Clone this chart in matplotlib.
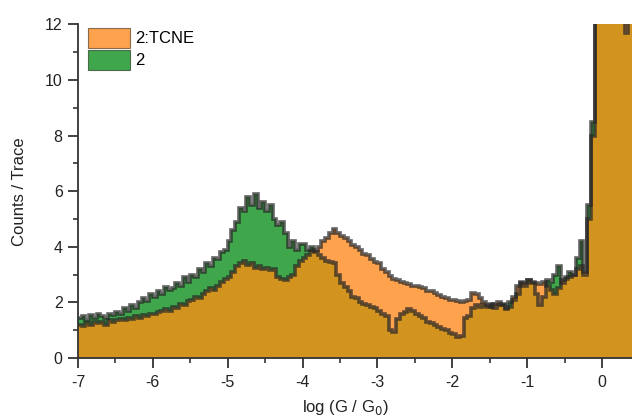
import numpy as np
import matplotlib
matplotlib.use("Agg")
import matplotlib.pyplot as plt
from matplotlib.patches import Patch

plt.rcParams['font.family'] = ['Liberation Sans', 'DejaVu Sans']
plt.rcParams['axes.unicode_minus'] = False

# histogram bin edges (log G/G0), width 0.05
bin_edges = np.round(np.arange(-7.0, 0.4001, 0.05), 2)

# series "2" (green)
counts_2 = [
    1.45, 1.5, 1.35, 1.55, 1.45, 1.6, 1.5, 1.45, 1.6, 1.55,
    1.65, 1.6, 1.8, 1.7, 1.9, 1.8, 2.0, 2.15, 2.05, 2.3,
    2.2, 2.4, 2.3, 2.55, 2.45, 2.5, 2.7, 2.6, 2.9, 2.75,
    3.0, 2.9, 3.2, 3.1, 3.4, 3.3, 3.6, 3.55, 3.8, 3.9,
    4.2, 4.6, 4.9, 5.4, 5.3, 5.8, 5.5, 5.9, 5.4, 5.6,
    5.3, 5.5, 5.0, 4.8, 4.9, 4.5, 4.0, 4.2, 3.9, 4.1,
    4.1, 3.9, 4.0, 3.8, 3.7, 3.6, 3.5, 3.45, 3.4, 3.0,
    2.7, 2.55, 2.4, 2.2, 2.15, 2.0, 1.95, 1.9, 1.85, 1.8,
    1.7, 1.6, 1.5, 1.0, 0.95, 1.4, 1.6, 1.65, 1.75, 1.7,
    1.6, 1.5, 1.45, 1.3, 1.25, 1.2, 1.1, 1.05, 1.0, 0.9,
    0.85, 0.75, 0.8, 1.45, 1.5, 1.8, 1.9, 1.85, 1.9, 1.85,
    1.95, 1.8, 1.9, 1.95, 1.75, 2.0, 2.1, 2.3, 2.7, 2.6,
    2.8, 2.7, 2.3, 1.9, 2.2, 2.8, 2.75, 3.0, 3.3, 2.7,
    2.9, 3.1, 3.0, 3.6, 4.2, 3.0, 5.5, 8.5, 12.5, 16.0,
    18.0, 20.0, 22.0, 20.0, 18.0, 15.0, 11.7, 13.0,
]

# series "2:TCNE" (orange)
counts_tcne = [
    1.2, 1.15, 1.25, 1.2, 1.3, 1.25, 1.3, 1.2, 1.35, 1.3,
    1.35, 1.4, 1.35, 1.45, 1.4, 1.5, 1.45, 1.55, 1.5, 1.6,
    1.6, 1.65, 1.7, 1.75, 1.7, 1.85, 1.8, 1.95, 1.9, 2.05,
    2.1, 2.2, 2.15, 2.3, 2.4, 2.5, 2.45, 2.6, 2.75, 2.85,
    2.9, 3.1, 3.3, 3.4, 3.5, 3.35, 3.4, 3.25, 3.3, 3.2,
    3.25, 3.15, 3.2, 2.9, 2.85, 2.8, 2.9, 3.0, 3.3, 3.5,
    3.6, 3.7, 3.85, 3.9, 4.0, 4.2, 4.3, 4.5, 4.65, 4.5,
    4.4, 4.3, 4.2, 4.05, 4.0, 3.9, 3.75, 3.7, 3.55, 3.45,
    3.4, 3.2, 3.1, 2.95, 2.85, 2.8, 2.75, 2.7, 2.65, 2.6,
    2.6, 2.55, 2.5, 2.4, 2.4, 2.35, 2.25, 2.2, 2.15, 2.1,
    2.1, 2.05, 2.0, 2.05, 2.1, 2.35, 2.3, 2.15, 2.0, 1.9,
    1.85, 1.95, 2.0, 1.9, 1.8, 1.85, 2.2, 2.6, 2.75, 2.7,
    2.8, 2.75, 2.7, 2.65, 2.75, 2.6, 2.45, 2.3, 2.5, 2.8,
    2.85, 2.9, 3.0, 3.2, 3.3, 3.1, 5.0, 8.0, 12.5, 16.0,
    19.0, 21.0, 23.0, 21.0, 19.0, 16.0, 14.0, 12.5,
]

labels = ["2:TCNE", "2"]
c_orange = "#FFA24E"
c_green = "#40A64B"
c_overlap = "#D3931F"

c2 = np.array(counts_2)
ct = np.array(counts_tcne)

fig = plt.figure(figsize=(6.32, 4.19), dpi=100)
ax = fig.add_axes([0.1234, 0.1456, 0.8766, 0.7962])

ax.stairs(ct, bin_edges, fill=True, color=c_orange, lw=0)
ax.stairs(c2, bin_edges, fill=True, color=c_green, lw=0)
ax.stairs(np.minimum(ct, c2), bin_edges, fill=True, color=c_overlap, lw=0)
ax.stairs(c2, bin_edges, fill=False, color="#262626", lw=2.6, alpha=0.72, baseline=None)
ax.stairs(ct, bin_edges, fill=False, color="#262626", lw=2.6, alpha=0.72, baseline=None)

ax.set_xlim(-7, 0.4)
ax.set_ylim(0, 12)
ax.set_xticks([-7, -6, -5, -4, -3, -2, -1, 0])
ax.set_xticks(np.arange(-6.5, 0.4, 1.0), minor=True)
ax.set_yticks([0, 2, 4, 6, 8, 10, 12])
ax.set_yticks([1, 3, 5, 7, 9, 11], minor=True)

for s in ["top", "right"]:
    ax.spines[s].set_visible(False)
for s in ["left", "bottom"]:
    ax.spines[s].set_linewidth(1.3)
    ax.spines[s].set_color("#333333")

ax.tick_params(which="major", direction="out", length=7, width=1.3, colors="#333333",
               labelsize=11.5, labelcolor="#222222", pad=4)
ax.tick_params(axis="x", which="major", pad=5.5)
ax.tick_params(which="minor", direction="out", length=3.6, width=1.2, colors="#333333")

ax.set_xlabel("log (G / G$_0$)", fontsize=12, color="#222222", va="center")
ax.set_ylabel("Counts / Trace", fontsize=12, color="#222222", va="center")
ax.xaxis.set_label_coords((345 - 78) / 554, (358 - 408) / 333.6)
ax.yaxis.set_label_coords((20 - 78) / 554, 0.5)

handles = [Patch(facecolor=c_orange, edgecolor="#8a6a4a", lw=0.8),
           Patch(facecolor=c_green, edgecolor="#4a6a4a", lw=0.8)]
ax.legend(handles, labels, loc="upper left", bbox_to_anchor=(0.018, 0.99),
          frameon=False, fontsize=12, handlelength=2.5, handleheight=1.5,
          labelspacing=0.1, handletextpad=0.3, borderaxespad=0, borderpad=0)

fig.savefig("out.png", dpi=100)
